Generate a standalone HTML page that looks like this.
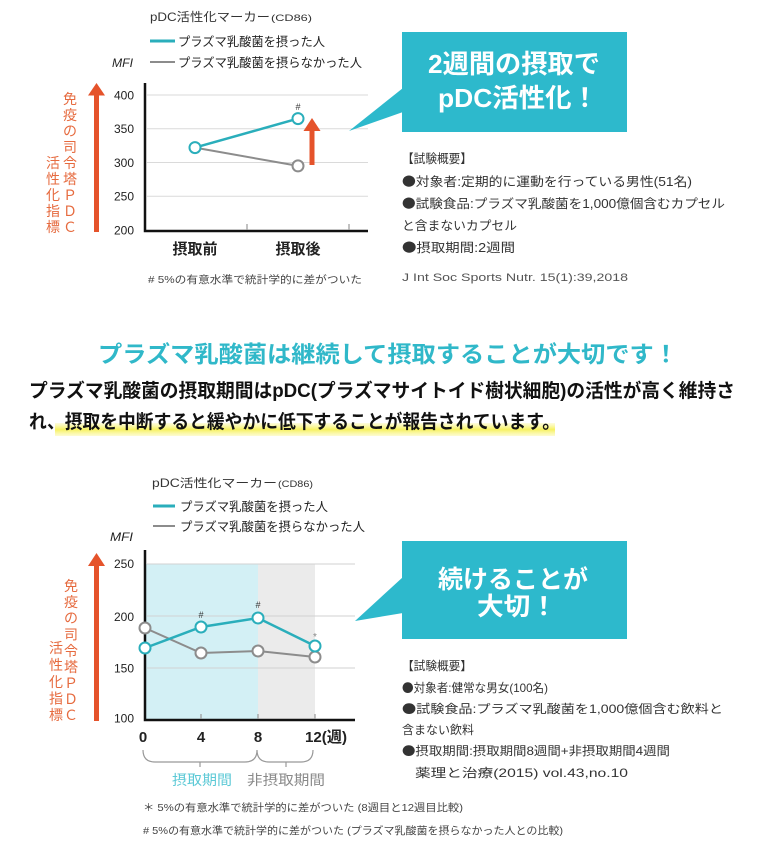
<!DOCTYPE html>
<html><head><meta charset="utf-8">
<style>
html,body{margin:0;padding:0;background:#fff;}
svg{display:block;}
text{font-family:"Liberation Sans","Noto Sans CJK JP",sans-serif;}
.cjk{font-family:"Noto Sans CJK JP",sans-serif;}
</style></head><body>
<svg width="760" height="848" viewBox="0 0 760 848" xmlns="http://www.w3.org/2000/svg">
<defs>
<linearGradient id="hl" x1="0" y1="0" x2="0" y2="1">
<stop offset="0" stop-color="#fbf78f" stop-opacity="0.3"/>
<stop offset="0.5" stop-color="#f6f15e" stop-opacity="1"/>
<stop offset="1" stop-color="#fbf78f" stop-opacity="0.4"/>
</linearGradient>
</defs>
<rect width="760" height="848" fill="#fff"/>

<!-- ================= TOP CHART ================= -->
<text x="150" y="21" font-size="12" fill="#333" textLength="120" lengthAdjust="spacingAndGlyphs">pDC活性化マーカー</text>
<text x="271" y="21" font-size="9.5" fill="#333" textLength="41" lengthAdjust="spacingAndGlyphs">(CD86)</text>
<line x1="150" y1="41" x2="175" y2="41" stroke="#2aaebb" stroke-width="3"/>
<text x="178" y="46" font-size="12.5" fill="#222" textLength="147" lengthAdjust="spacingAndGlyphs">プラズマ乳酸菌を摂った人</text>
<line x1="150" y1="62" x2="175" y2="62" stroke="#8c8c8c" stroke-width="2"/>
<text x="178" y="67" font-size="12.5" fill="#222" textLength="184" lengthAdjust="spacingAndGlyphs">プラズマ乳酸菌を摂らなかった人</text>
<text x="112" y="67" font-size="11.5" font-style="italic" fill="#222" textLength="21" lengthAdjust="spacingAndGlyphs">MFI</text>

<g stroke="#dadada" stroke-width="1">
<line x1="147" y1="95" x2="368" y2="95"/>
<line x1="147" y1="128.75" x2="368" y2="128.75"/>
<line x1="147" y1="162.5" x2="368" y2="162.5"/>
<line x1="147" y1="196.25" x2="368" y2="196.25"/>
</g>
<path d="M145 83 V231 H368" stroke="#111" stroke-width="2.5" fill="none"/>
<g stroke="#999" stroke-width="1.2">
<line x1="247" y1="224" x2="247" y2="230"/>
<line x1="349" y1="224" x2="349" y2="230"/>
</g>
<g font-size="12" fill="#222" text-anchor="end">
<text x="134" y="99.5">400</text>
<text x="134" y="133">350</text>
<text x="134" y="167">300</text>
<text x="134" y="200.5">250</text>
<text x="134" y="234.5">200</text>
</g>
<line x1="195" y1="147.6" x2="298" y2="165.9" stroke="#8c8c8c" stroke-width="2"/>
<line x1="195" y1="147.6" x2="298" y2="118.6" stroke="#2aaebb" stroke-width="2.5"/>
<circle cx="298" cy="165.9" r="5.5" fill="#fff" stroke="#8c8c8c" stroke-width="2"/>
<circle cx="298" cy="118.6" r="5.5" fill="#fff" stroke="#2aaebb" stroke-width="2"/>
<circle cx="195" cy="147.6" r="5.5" fill="#fff" stroke="#2aaebb" stroke-width="2"/>
<text x="298" y="110" font-size="9" fill="#333" text-anchor="middle">#</text>
<polygon points="312,118 320.5,131 303.5,131" fill="#e5532b"/>
<rect x="309.5" y="130" width="5" height="35" fill="#e5532b"/>
<text x="195" y="254" font-size="15" font-weight="bold" fill="#222" text-anchor="middle">摂取前</text>
<text x="298" y="254" font-size="15" font-weight="bold" fill="#222" text-anchor="middle">摂取後</text>
<text x="148" y="283" font-size="10.5" fill="#444" textLength="214" lengthAdjust="spacingAndGlyphs"># 5%の有意水準で統計学的に差がついた</text>

<!-- left arrow + vertical text (top) -->
<polygon points="96.5,83 105,95.5 88,95.5" fill="#e5532b"/>
<rect x="94" y="94" width="5" height="138" fill="#e5532b"/>
<g font-size="14" fill="#e66a3e" text-anchor="middle">
<text x="70" y="104">免</text>
<text x="70" y="120">疫</text>
<text x="70" y="136">の</text>
<text x="70" y="152">司</text>
<text x="70" y="168">令</text>
<text x="70" y="184">塔</text>
<text x="70" y="200">Ｐ</text>
<text x="70" y="216">Ｄ</text>
<text x="70" y="232">Ｃ</text>
<text x="53" y="168">活</text>
<text x="53" y="184">性</text>
<text x="53" y="200">化</text>
<text x="53" y="216">指</text>
<text x="53" y="232">標</text>
</g>

<!-- top callout -->
<polygon points="349,131 403,88 403,112" fill="#2db9cc"/>
<rect x="402" y="32" width="225" height="100" fill="#2db9cc"/>
<text x="428" y="73" font-size="26" font-weight="bold" fill="#fff" textLength="172" lengthAdjust="spacingAndGlyphs">2週間の摂取で</text>
<text x="438" y="107" font-size="26" font-weight="bold" fill="#fff" textLength="160" lengthAdjust="spacingAndGlyphs">pDC活性化！</text>

<!-- top summary -->
<g font-size="12.5" fill="#333">
<text x="402" y="163" textLength="70" lengthAdjust="spacingAndGlyphs">【試験概要】</text>
<text x="402" y="186" textLength="290" lengthAdjust="spacingAndGlyphs"><tspan class="cjk">●</tspan>対象者:定期的に運動を行っている男性(51名)</text>
<text x="402" y="208" textLength="323" lengthAdjust="spacingAndGlyphs"><tspan class="cjk">●</tspan>試験食品:プラズマ乳酸菌を1,000億個含むカプセル</text>
<text x="402" y="230" textLength="115" lengthAdjust="spacingAndGlyphs">と含まないカプセル</text>
<text x="402" y="252" textLength="113" lengthAdjust="spacingAndGlyphs"><tspan class="cjk">●</tspan>摂取期間:2週間</text>
</g>
<text x="402" y="281" font-size="11" fill="#555" textLength="226" lengthAdjust="spacingAndGlyphs">J Int Soc Sports Nutr. 15(1):39,2018</text>

<!-- ================= MIDDLE ================= -->
<text x="98" y="362" font-size="23" font-weight="bold" fill="#30b8c9" textLength="580" lengthAdjust="spacingAndGlyphs">プラズマ乳酸菌は継続して摂取することが大切です！</text>
<text x="29" y="397" font-size="19" font-weight="bold" fill="#111" textLength="706" lengthAdjust="spacingAndGlyphs">プラズマ乳酸菌の摂取期間はpDC(プラズマサイトイド樹状細胞)の活性が高く維持さ</text>
<rect x="55" y="423" width="500" height="13" fill="url(#hl)"/>
<text x="29" y="428" font-size="19" font-weight="bold" fill="#111" textLength="531" lengthAdjust="spacingAndGlyphs">れ、摂取を中断すると緩やかに低下することが報告されています。</text>

<!-- ================= BOTTOM CHART ================= -->
<text x="152" y="487" font-size="11.5" fill="#333" textLength="125" lengthAdjust="spacingAndGlyphs">pDC活性化マーカー</text>
<text x="278" y="487" font-size="9" fill="#333" textLength="35" lengthAdjust="spacingAndGlyphs">(CD86)</text>
<line x1="153" y1="506" x2="175" y2="506" stroke="#2aaebb" stroke-width="3"/>
<text x="180" y="511" font-size="12.5" fill="#222" textLength="148" lengthAdjust="spacingAndGlyphs">プラズマ乳酸菌を摂った人</text>
<line x1="153" y1="526" x2="175" y2="526" stroke="#8c8c8c" stroke-width="2"/>
<text x="180" y="531" font-size="12.5" fill="#222" textLength="185" lengthAdjust="spacingAndGlyphs">プラズマ乳酸菌を摂らなかった人</text>
<text x="110" y="541" font-size="11.5" font-style="italic" fill="#222" textLength="23" lengthAdjust="spacingAndGlyphs">MFI</text>

<rect x="146" y="564" width="112" height="156" fill="#d3f0f5"/>
<rect x="258" y="564" width="57" height="156" fill="#ebebeb"/>
<g stroke="#d2d2d2" stroke-width="1">
<line x1="147" y1="564" x2="355" y2="564"/>
<line x1="147" y1="616" x2="355" y2="616"/>
<line x1="147" y1="668" x2="355" y2="668"/>
</g>
<path d="M145 550 V720 H355" stroke="#111" stroke-width="2.5" fill="none"/>
<g stroke="#999" stroke-width="1.2">
<line x1="201" y1="714" x2="201" y2="719"/>
<line x1="258" y1="714" x2="258" y2="719"/>
<line x1="315" y1="714" x2="315" y2="719"/>
</g>
<g font-size="12" fill="#222" text-anchor="end">
<text x="134" y="568">250</text>
<text x="134" y="621">200</text>
<text x="134" y="672.5">150</text>
<text x="134" y="722.5">100</text>
</g>
<g font-size="15" font-weight="bold" fill="#222">
<text x="143" y="742" text-anchor="middle">0</text>
<text x="201" y="742" text-anchor="middle">4</text>
<text x="258" y="742" text-anchor="middle">8</text>
<text x="305" y="742" textLength="42" lengthAdjust="spacingAndGlyphs">12(週)</text>
</g>
<polyline points="145,628 201,653 258,651 315,657" fill="none" stroke="#8c8c8c" stroke-width="2"/>
<polyline points="145,648 201,627 258,618 315,646" fill="none" stroke="#2aaebb" stroke-width="2.5"/>
<g fill="#fff" stroke="#8c8c8c" stroke-width="2">
<circle cx="145" cy="628" r="5.5"/>
<circle cx="201" cy="653" r="5.5"/>
<circle cx="258" cy="651" r="5.5"/>
<circle cx="315" cy="657" r="5.5"/>
</g>
<g fill="#fff" stroke="#2aaebb" stroke-width="2">
<circle cx="145" cy="648" r="5.5"/>
<circle cx="201" cy="627" r="5.5"/>
<circle cx="258" cy="618" r="5.5"/>
<circle cx="315" cy="646" r="5.5"/>
</g>
<text x="201" y="618" font-size="9" fill="#333" text-anchor="middle">#</text>
<text x="258" y="608" font-size="9" fill="#333" text-anchor="middle">#</text>
<text x="315" y="640" font-size="10" fill="#888" text-anchor="middle">*</text>

<!-- bracket -->
<path d="M143 750 Q143 762 155 762 H245 Q257 762 257 750 Q257 762 269 762 H301 Q313 762 313 750" fill="none" stroke="#999" stroke-width="1.2"/>
<line x1="200" y1="762" x2="200" y2="767" stroke="#999" stroke-width="1.2"/>
<line x1="286" y1="762" x2="286" y2="767" stroke="#999" stroke-width="1.2"/>
<text x="172" y="785" font-size="14" fill="#5cc9d6" textLength="60" lengthAdjust="spacingAndGlyphs">摂取期間</text>
<text x="247" y="785" font-size="14" fill="#8a8a8a" textLength="78" lengthAdjust="spacingAndGlyphs">非摂取期間</text>

<text x="143" y="811" font-size="10.5" fill="#444" textLength="320" lengthAdjust="spacingAndGlyphs">＊ 5%の有意水準で統計学的に差がついた (8週目と12週目比較)</text>
<text x="143" y="834" font-size="10.5" fill="#444" textLength="420" lengthAdjust="spacingAndGlyphs"># 5%の有意水準で統計学的に差がついた (プラズマ乳酸菌を摂らなかった人との比較)</text>

<!-- left arrow + vertical text (bottom) -->
<polygon points="96.5,553 105,566 88,566" fill="#e5532b"/>
<rect x="94" y="565" width="5" height="156" fill="#e5532b"/>
<g font-size="14" fill="#e66a3e" text-anchor="middle">
<text x="71" y="591">免</text>
<text x="71" y="607">疫</text>
<text x="71" y="623">の</text>
<text x="71" y="639.5">司</text>
<text x="71" y="656">令</text>
<text x="71" y="672">塔</text>
<text x="71" y="688">Ｐ</text>
<text x="71" y="704">Ｄ</text>
<text x="71" y="720">Ｃ</text>
<text x="56" y="653">活</text>
<text x="56" y="670">性</text>
<text x="56" y="687">化</text>
<text x="56" y="703.5">指</text>
<text x="56" y="720">標</text>
</g>

<!-- bottom callout -->
<polygon points="355,621 403,577 403,613" fill="#2db9cc"/>
<rect x="402" y="541" width="225" height="98" fill="#2db9cc"/>
<text x="438" y="588" font-size="25" font-weight="bold" fill="#fff" textLength="150" lengthAdjust="spacingAndGlyphs">続けることが</text>
<text x="477" y="615" font-size="25" font-weight="bold" fill="#fff" textLength="80" lengthAdjust="spacingAndGlyphs">大切！</text>

<!-- bottom summary -->
<g font-size="12" fill="#333">
<text x="402" y="670" textLength="70" lengthAdjust="spacingAndGlyphs">【試験概要】</text>
<text x="402" y="692" textLength="146" lengthAdjust="spacingAndGlyphs"><tspan class="cjk">●</tspan>対象者:健常な男女(100名)</text>
<text x="402" y="713" textLength="321" lengthAdjust="spacingAndGlyphs"><tspan class="cjk">●</tspan>試験食品:プラズマ乳酸菌を1,000億個含む飲料と</text>
<text x="402" y="734" textLength="72" lengthAdjust="spacingAndGlyphs">含まない飲料</text>
<text x="402" y="755" textLength="268" lengthAdjust="spacingAndGlyphs"><tspan class="cjk">●</tspan>摂取期間:摂取期間8週間+非摂取期間4週間</text>
<text x="415" y="777" textLength="213" lengthAdjust="spacingAndGlyphs">薬理と治療(2015) vol.43,no.10</text>
</g>
</svg>
</body></html>
